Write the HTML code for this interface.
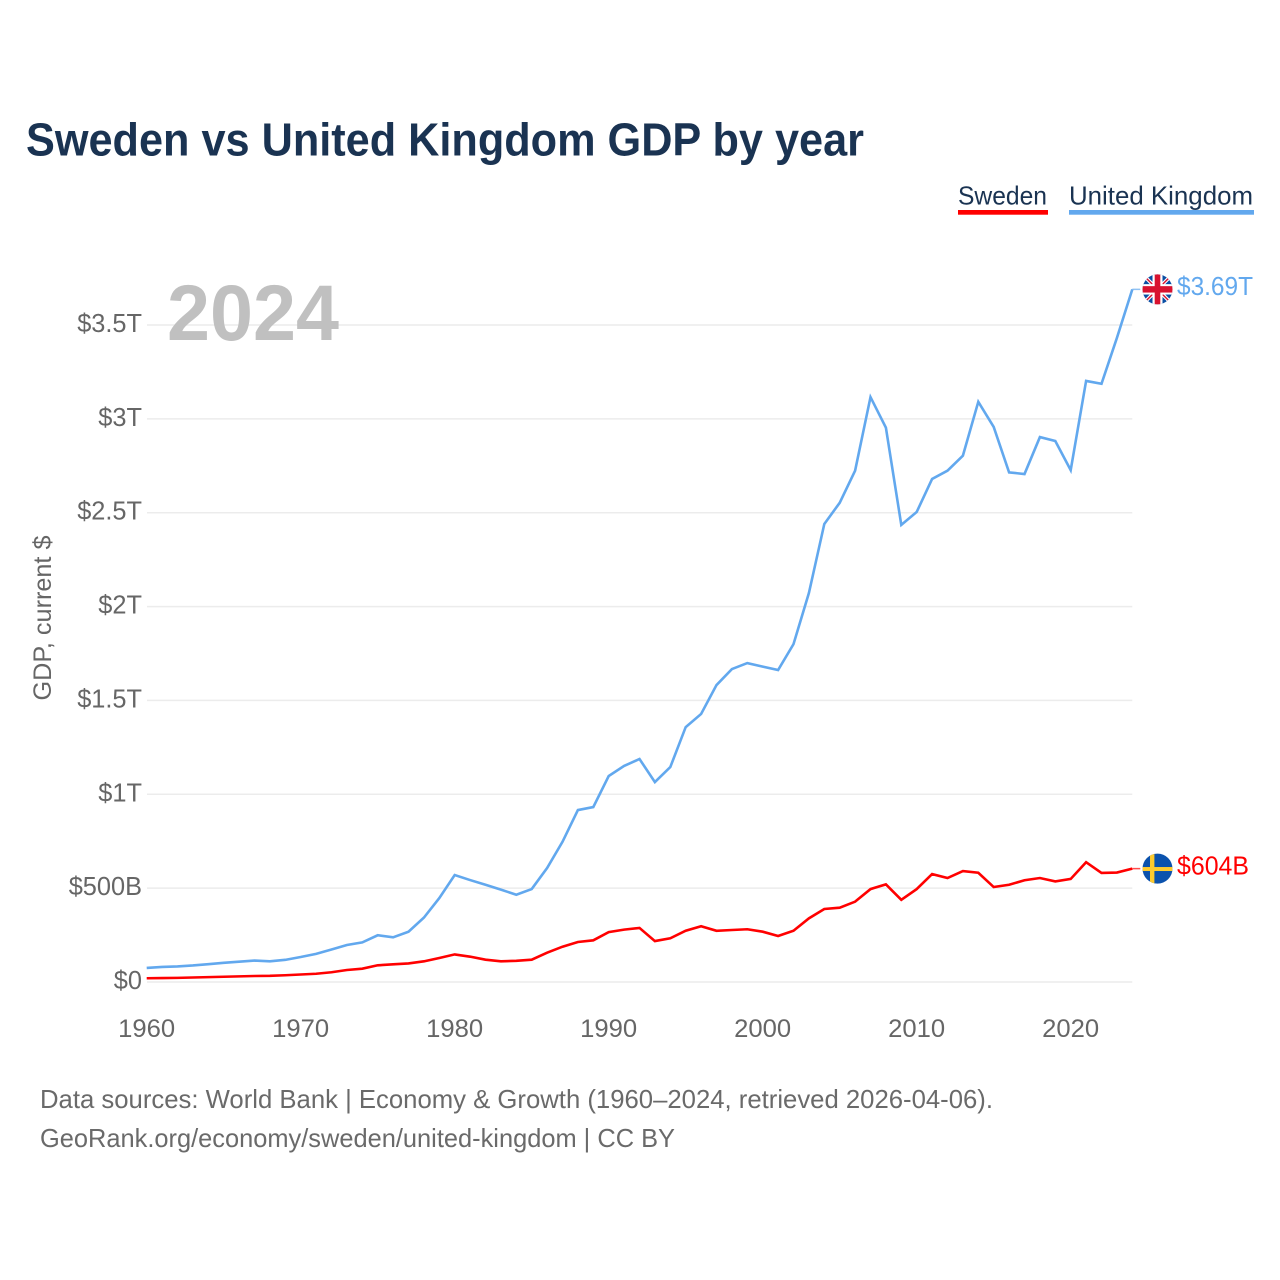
<!DOCTYPE html>
<html lang="en">
<head>
<meta charset="utf-8">
<title>Sweden vs United Kingdom GDP by year</title>
<style>
html,body{margin:0;padding:0;background:#fff;}
svg{display:block;}
text{font-family:"Liberation Sans",sans-serif;}
</style>
</head>
<body>
<svg id="chart" xmlns="http://www.w3.org/2000/svg" width="1280" height="1280" viewBox="0 0 1280 1280">
  <defs>
    <clipPath id="uk-clip"><circle cx="0" cy="0" r="15"></circle></clipPath>
    <clipPath id="se-clip"><circle cx="0" cy="0" r="15"></circle></clipPath>
  </defs>
  <rect x="0" y="0" width="1280" height="1280" fill="#ffffff"></rect>
  <text x="26" y="155.5" font-size="46" font-weight="700" fill="#1a3352" textLength="838" lengthAdjust="spacingAndGlyphs">Sweden vs United Kingdom GDP by year</text>

  <g>
    <text x="958" y="204.5" font-size="26" fill="#1a3352" textLength="89" lengthAdjust="spacingAndGlyphs">Sweden</text>
    <rect x="958" y="210" width="90" height="4.7" fill="#ff0000"></rect>
  </g>
  <g>
    <text x="1069" y="204.5" font-size="26" fill="#1a3352" textLength="184" lengthAdjust="spacingAndGlyphs">United Kingdom</text>
    <rect x="1069" y="210" width="185" height="4.7" fill="#62a8ee"></rect>
  </g>

  <g id="grid"></g>
  <text x="167" y="340" font-size="79" font-weight="700" fill="#c0c0c0" textLength="172" lengthAdjust="spacingAndGlyphs">2024</text>
  <g id="y-ticks"></g>
  <g id="x-ticks"></g>
  <text transform="translate(51,700.5) rotate(-90)" x="0" y="0" font-size="25" fill="#666666" textLength="165" lengthAdjust="spacingAndGlyphs">GDP, current $</text>

  <g id="series"></g>

  <g id="flag-uk">
    <g clip-path="url(#uk-clip)">
      <rect x="-16" y="-16" width="32" height="32" fill="#0a4ea3"></rect>
      <path d="M-16,-16L16,16M16,-16L-16,16" stroke="#ffffff" stroke-width="3.6"></path>
      <path d="M-16,-16L16,16M16,-16L-16,16" stroke="#d8122f" stroke-width="1.4"></path>
      <rect x="-16" y="-5.2" width="32" height="10.4" fill="#ffffff"></rect>
      <rect x="-5" y="-16" width="10" height="32" fill="#ffffff"></rect>
      <rect x="-16" y="-3.2" width="32" height="6.4" fill="#d8122f"></rect>
      <rect x="-2.8" y="-16" width="5.6" height="32" fill="#d8122f"></rect>
    </g>
  </g>
  <g id="flag-se">
    <g clip-path="url(#se-clip)">
      <rect x="-16" y="-16" width="32" height="32" fill="#0b52ad"></rect>
      <rect x="-16" y="-1.6" width="32" height="4" fill="#fecb2e"></rect>
      <rect x="-7.5" y="-16" width="4.4" height="32" fill="#fecb2e"></rect>
    </g>
  </g>
  <text id="label-uk" x="1177" font-size="26" fill="#62a8ee" textLength="76" lengthAdjust="spacingAndGlyphs"></text>
  <text id="label-se" x="1177" font-size="26" fill="#ff0000" textLength="72" lengthAdjust="spacingAndGlyphs"></text>

  <text x="40" y="1108" font-size="26" fill="#6a6a6a" textLength="953" lengthAdjust="spacingAndGlyphs">Data sources: World Bank | Economy &amp; Growth (1960–2024, retrieved 2026-04-06).</text>
  <text x="40" y="1147" font-size="26" fill="#6a6a6a" textLength="635" lengthAdjust="spacingAndGlyphs">GeoRank.org/economy/sweden/united-kingdom | CC BY</text>
</svg>
<script>
// GDP in billions of current US$, one value per year.
const startYear = 1960;
const ukValues = [75,80,83,88,95,102,108,114,110,118,133,150,173,197,211,249,238,268,343,447,570,543,518,492,465,495,607,747,916,932,1097,1151,1188,1065,1145,1358,1428,1582,1667,1699,1680,1662,1800,2072,2440,2553,2724,3116,2953,2435,2504,2680,2724,2804,3091,2957,2715,2706,2903,2882,2727,3202,3187,3431,3690];
const seValues = [20,21,22,24,26,28,30,32,33,36,40,44,52,64,71,89,94,99,110,128,147,135,119,110,113,119,156,188,213,222,266,279,288,218,233,273,297,273,277,281,268,245,273,339,389,396,428,495,520,438,495,575,554,591,582,506,518,542,554,536,549,638,581,583,604];
const yTickValues = [0,500,1000,1500,2000,2500,3000,3500];
const yTickLabels = ["$0","$500B","$1T","$1.5T","$2T","$2.5T","$3T","$3.5T"];
const xTickValues = [1960,1970,1980,1990,2000,2010,2020];
const ukEndLabel = "$3.69T";
const seEndLabel = "$604B";

const SVG_NS = "http://www.w3.org/2000/svg";
function xScale(year){ return 146.7 + (year - 1960) * 15.4; }
function yScale(v){ return 982 - v * 0.18771; }

function linePath(values){
  return values.map(function(v, i){
    return (i ? "L" : "M") + xScale(startYear + i).toFixed(2) + "," + yScale(v).toFixed(2);
  }).join("");
}

const gridGroup = document.getElementById("grid");
const yTickGroup = document.getElementById("y-ticks");
yTickValues.forEach(function(v, i){
  const ln = document.createElementNS(SVG_NS, "line");
  
  
  ln.setAttribute("x1", 147);
  ln.setAttribute("x2", xScale(2024));
  ln.setAttribute("y1", yScale(v));
  ln.setAttribute("y2", yScale(v));
  ln.setAttribute("stroke", "#ececec");
  ln.setAttribute("stroke-width", "1.5");
  gridGroup.appendChild(ln);

  const t = document.createElementNS(SVG_NS, "text");
  
  
  t.setAttribute("x", 142);
  t.setAttribute("y", yScale(v) + 7);
  t.setAttribute("text-anchor", "end");
  t.setAttribute("font-size", "26");
  t.setAttribute("fill", "#666666");
  t.textContent = yTickLabels[i];
  yTickGroup.appendChild(t);
  const natural = t.getComputedTextLength();
  t.setAttribute("textLength", (natural * 0.975).toFixed(1));
  t.setAttribute("lengthAdjust", "spacingAndGlyphs");
});

const xTickGroup = document.getElementById("x-ticks");
xTickValues.forEach(function(year){
  const t = document.createElementNS(SVG_NS, "text");
  
  
  t.setAttribute("x", xScale(year));
  t.setAttribute("y", 1037);
  t.setAttribute("text-anchor", "middle");
  t.setAttribute("font-size", "25");
  t.setAttribute("fill", "#666666");
  t.setAttribute("textLength", "57");
  t.setAttribute("lengthAdjust", "spacingAndGlyphs");
  t.textContent = String(year);
  xTickGroup.appendChild(t);
});

const seriesGroup = document.getElementById("series");
function drawSeries(values, color, name){
  const p = document.createElementNS(SVG_NS, "path");
  
  
  p.setAttribute("d", linePath(values));
  p.setAttribute("fill", "none");
  p.setAttribute("stroke", color);
  p.setAttribute("stroke-width", "2.6");
  p.setAttribute("stroke-linejoin", "miter");
  seriesGroup.appendChild(p);

  const last = values[values.length - 1];
  const tail = document.createElementNS(SVG_NS, "line");
  
  
  tail.setAttribute("x1", xScale(startYear + values.length - 1));
  tail.setAttribute("x2", xScale(startYear + values.length - 1) + 8);
  tail.setAttribute("y1", yScale(last));
  tail.setAttribute("y2", yScale(last));
  tail.setAttribute("stroke", color);
  tail.setAttribute("stroke-width", "1.5");
  tail.setAttribute("stroke-opacity", "0.7");
  seriesGroup.appendChild(tail);
}
drawSeries(seValues, "#ff0000", "sweden-line");
drawSeries(ukValues, "#62a8ee", "united-kingdom-line");

const ukLastY = yScale(ukValues[ukValues.length - 1]);
const seLastY = yScale(seValues[seValues.length - 1]);
document.getElementById("flag-uk").setAttribute("transform", "translate(1157.5," + ukLastY + ")");
document.getElementById("flag-se").setAttribute("transform", "translate(1157.5," + seLastY + ")");
const ukLabel = document.getElementById("label-uk");
ukLabel.setAttribute("y", ukLastY + 5.8);
ukLabel.textContent = ukEndLabel;
const seLabel = document.getElementById("label-se");
seLabel.setAttribute("y", seLastY + 5.8);
seLabel.textContent = seEndLabel;
</script>
</body>
</html>
